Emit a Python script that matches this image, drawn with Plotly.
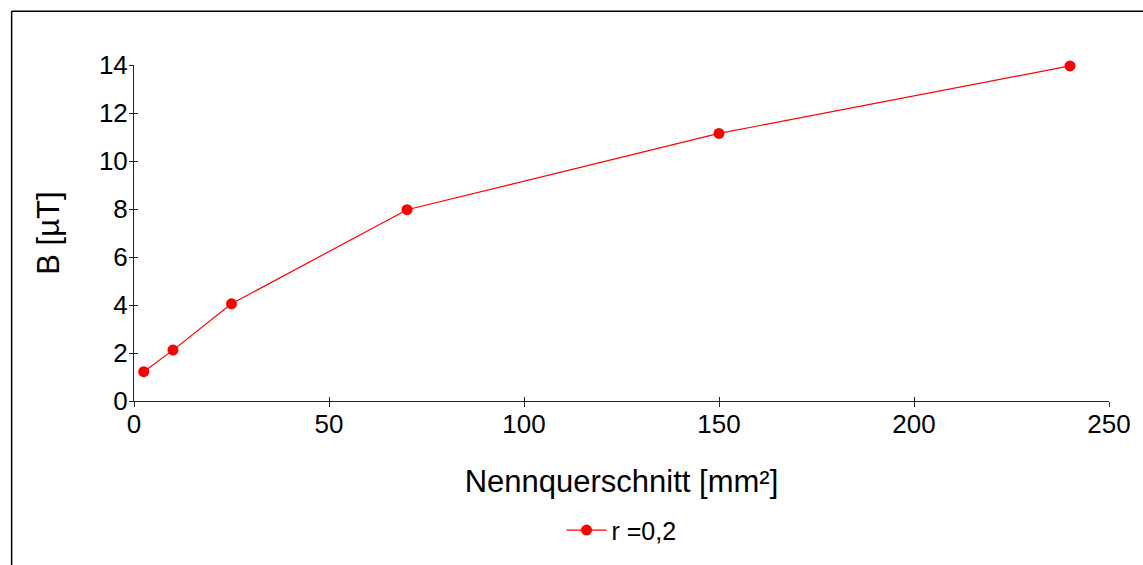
import plotly.graph_objects as go

# Data
querschnitt = [2.5, 10, 25, 70, 150, 240]
b_values = [1.22, 2.12, 4.05, 7.97, 11.15, 13.96]
series_name = "r =0,2"
x_title = "Nennquerschnitt [mm²]"
y_title = "B [µT]"

FONT = "Liberation Sans, Arial, sans-serif"
RED = "#ff0000"
AX = "#222222"

fig = go.Figure()
fig.add_trace(go.Scatter(
    x=querschnitt, y=b_values, mode="lines+markers", name=series_name,
    line=dict(color=RED, width=1.2),
    marker=dict(color=RED, size=11),
    cliponaxis=False,
))
# dummy trace for the outer half of the crossing tick marks
fig.add_trace(go.Scatter(x=[None], y=[None], xaxis="x2", yaxis="y2",
                         showlegend=False, hoverinfo="skip"))

fig.update_layout(
    width=1143, height=565,
    margin=dict(l=134, r=32, t=65, b=163),
    paper_bgcolor="white", plot_bgcolor="white",
    font=dict(family=FONT, color="black"),
    showlegend=True,
    legend=dict(orientation="h", x=0.5, xanchor="center", y=-0.385, yanchor="middle",
                font=dict(size=25, family=FONT), itemwidth=40),
    xaxis=dict(range=[0, 250], tickvals=[0, 50, 100, 150, 200, 250],
               showline=True, linecolor=AX, linewidth=1, showgrid=False, zeroline=False,
               ticks="inside", ticklen=4, tickcolor=AX, tickwidth=1,
               tickfont=dict(size=26, family=FONT),
               title=dict(text=x_title, font=dict(size=31, family=FONT), standoff=32)),
    yaxis=dict(range=[0, 14], tickvals=[0, 2, 4, 6, 8, 10, 12, 14],
               showline=True, linecolor=AX, linewidth=1, showgrid=False, zeroline=False,
               ticks="inside", ticklen=4, tickcolor=AX, tickwidth=1,
               tickfont=dict(size=26, family=FONT),
               title=dict(text=y_title, font=dict(size=31, family=FONT), standoff=30)),
    xaxis2=dict(range=[0, 250], tickvals=[0, 50, 100, 150, 200, 250], overlaying="x",
                anchor="y2", side="bottom", ticks="outside", ticklen=5, tickcolor=AX,
                showticklabels=False, showgrid=False, zeroline=False, showline=False),
    yaxis2=dict(range=[0, 14], tickvals=[0, 2, 4, 6, 8, 10, 12, 14], overlaying="y",
                anchor="x2", side="left", ticks="outside", ticklen=4, tickcolor=AX,
                showticklabels=False, showgrid=False, zeroline=False, showline=False),
    shapes=[
        dict(type="line", xref="paper", yref="paper", x0=-0.1255, x1=1.2, y0=1.160, y1=1.160,
             line=dict(color="black", width=1.5)),
        dict(type="line", xref="paper", yref="paper", x0=-0.1255, x1=-0.1255, y0=1.160, y1=-1.0,
             line=dict(color="black", width=1.5)),
    ],
)

fig.write_html("out.html")
